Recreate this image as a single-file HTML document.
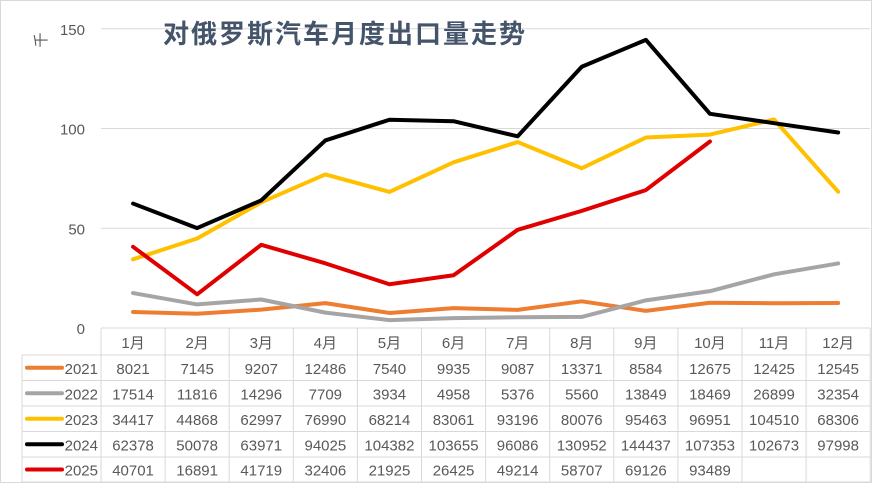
<!DOCTYPE html>
<html><head><meta charset="utf-8"><style>
html,body{margin:0;padding:0;background:#fff;}
svg text{font-family:"Liberation Sans","Noto Sans CJK SC",sans-serif;}
</style></head><body>
<svg id="s" width="872" height="483" xmlns="http://www.w3.org/2000/svg">
<rect x="0.5" y="0.5" width="871" height="482" fill="#fff" stroke="#d9d9d9"/>
</svg>
<script>
const S=document.getElementById('s');const NS='http://www.w3.org/2000/svg';
function el(t,a,txt){const e=document.createElementNS(NS,t);for(const k in a)e.setAttribute(k,a[k]);if(txt!==undefined)e.textContent=txt;S.appendChild(e);return e;}
const X0=101,CW=64.1,Y0=328,K=1.995/1000;
const cx=i=>X0+CW*(i+0.5), cy=v=>Y0-v*K;
[50,100,150].forEach(v=>el('line',{x1:X0,x2:870,y1:cy(v*1000),y2:cy(v*1000),stroke:'#d9d9d9','stroke-width':1}));
[0,50,100,150].forEach(v=>el('text',{x:85,y:cy(v*1000)+6,'text-anchor':'end','font-size':15,fill:'#595959'},v));
el('text',{x:42,y:44,'font-size':15,fill:'#595959','text-anchor':'middle',transform:'rotate(-90 42 40)'},'千');
el('text',{x:163,y:43,'font-size':26,'font-weight':'bold',fill:'#44546a','letter-spacing':2},'对俄罗斯汽车月度出口量走势');
const data={
'2021':[8021,7145,9207,12486,7540,9935,9087,13371,8584,12675,12425,12545],
'2022':[17514,11816,14296,7709,3934,4958,5376,5560,13849,18469,26899,32354],
'2023':[34417,44868,62997,76990,68214,83061,93196,80076,95463,96951,104510,68306],
'2024':[62378,50078,63971,94025,104382,103655,96086,130952,144437,107353,102673,97998],
'2025':[40701,16891,41719,32406,21925,26425,49214,58707,69126,93489]};
const col={'2021':'#ed7d31','2022':'#a5a5a5','2023':'#ffc000','2024':'#000000','2025':'#e00000'};
for(const y in data){el('polyline',{points:data[y].map((v,i)=>cx(i)+','+cy(v)).join(' '),fill:'none',stroke:col[y],'stroke-width':4,'stroke-linejoin':'round','stroke-linecap':'round'});}
const rows=[328,355,380.5,406,431.5,457,482];
const g='#d9d9d9';
for(let r=0;r<rows.length;r++){const x1=r==0?X0:22;el('line',{x1:x1,x2:870,y1:rows[r],y2:rows[r],stroke:g});}
el('line',{x1:22,x2:22,y1:355,y2:482,stroke:g});
for(let c=0;c<=12;c++){el('line',{x1:X0+CW*c,x2:X0+CW*c,y1:328,y2:482,stroke:g});}
for(let c=0;c<12;c++)el('text',{x:cx(c),y:348,'text-anchor':'middle','font-size':15,fill:'#595959'},(c+1)+'月');
let r=0;for(const y in data){const ym=(rows[r+1]+rows[r+2])/2;
el('line',{x1:27,x2:62,y1:ym,y2:ym,stroke:col[y],'stroke-width':4,'stroke-linecap':'round'});
el('text',{x:98,y:ym+6,'text-anchor':'end','font-size':15,fill:'#595959'},y);
data[y].forEach((v,i)=>el('text',{x:cx(i),y:ym+6,'text-anchor':'middle','font-size':15,fill:'#595959'},v));r++;}
</script>
</body></html>
